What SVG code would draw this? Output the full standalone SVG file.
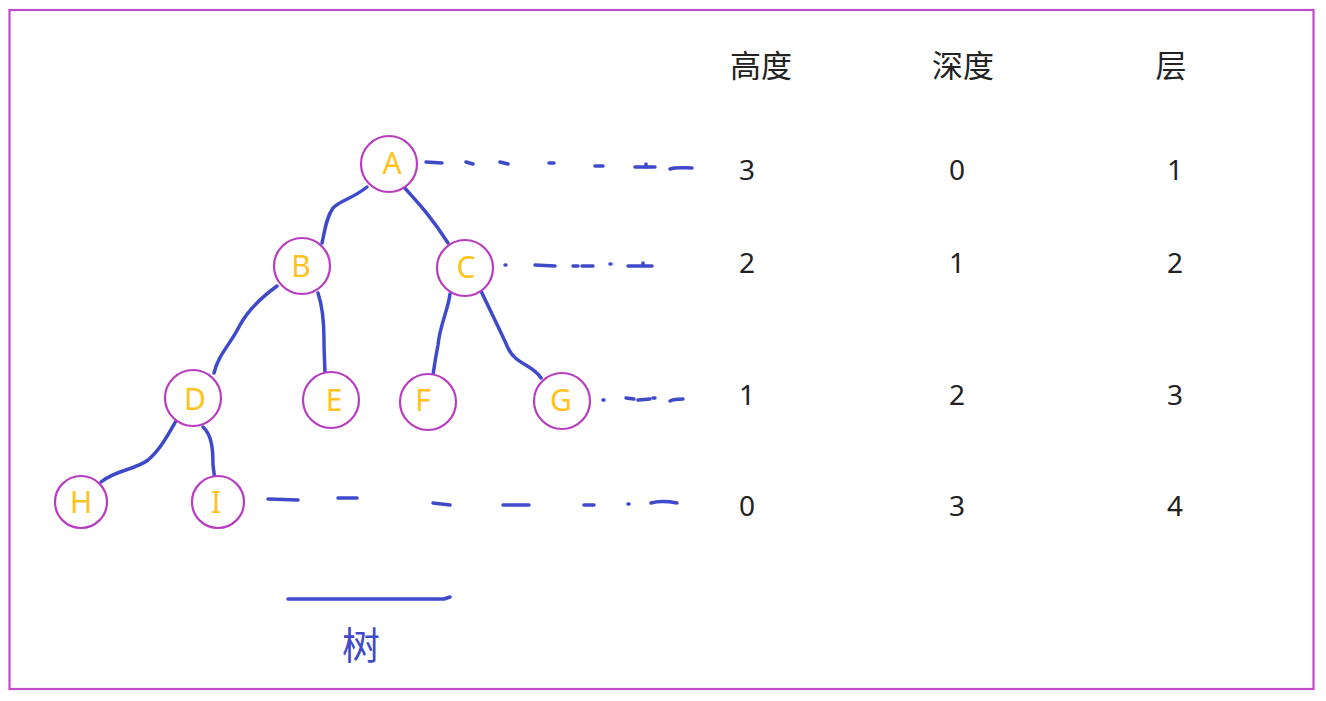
<svg xmlns="http://www.w3.org/2000/svg" width="1326" height="701" viewBox="0 0 1326 701">
<style>
.node circle{fill:#fff;stroke:#B83DC0;stroke-width:2.2}
.node text{fill:#FFC21A;font-family:"Noto Sans","Noto Sans CJK SC",sans-serif;font-size:30px;text-anchor:middle;dominant-baseline:central}
.edge{fill:none;stroke:#3F4ACB;stroke-width:3.5;stroke-linecap:round;stroke-linejoin:round}
.hd{fill:#222;font-family:"Noto Sans CJK SC","Noto Sans",sans-serif;font-size:31px;text-anchor:middle;dominant-baseline:central}
.num{fill:#222;font-family:"Noto Sans","Noto Sans CJK SC",sans-serif;font-size:28px;text-anchor:middle;dominant-baseline:central}
</style>
<rect x="0" y="0" width="1326" height="701" fill="#fff"/>
<rect x="9.5" y="10" width="1304" height="679" fill="none" stroke="#C04CC8" stroke-width="2.2"/>
<g id="connectors">
<path class="edge" d="M367,187 C352,199 341,200 333,208 C326,218 325,230 322,243"/>
<path class="edge" d="M403,186 C418,203 430,215 448,243"/>
<path class="edge" d="M277,286 C262,297 248,310 240,325 C230,345 218,355 214,373"/>
<path class="edge" d="M318,293 C322,305 324,320 324,340 C324,355 325,365 325,378"/>
<path class="edge" d="M450,294 C448,310 440,325 438,345 C435,360 434,368 433,375"/>
<path class="edge" d="M481,291 C490,310 500,330 508,348 C516,365 532,364 541,378"/>
<path class="edge" d="M176,421 C168,435 160,450 148,460 C135,470 115,470 101,482"/>
<path class="edge" d="M203,427 C212,435 213,450 213,465 L215,481"/>
<g class="edge">
<path d="M426,162 L442,163"/><path d="M466,162 L473,164"/><path d="M500,162 L508,164"/><path d="M549,163 L554,163"/><path d="M595,166 L603,166"/><path d="M635,167 L655,167"/><path d="M646,164 L646,167"/><path d="M670,169 C676,167 684,168 692,168"/>
<path d="M505,265 L506,265"/><path d="M535,265 L555,266"/><path d="M573,266 L578,266"/><path d="M582,266 L593,266"/><path d="M610,264 L611,264"/><path d="M628,266 L652,266"/><path d="M643,263 L643,265"/>
<path d="M603,400 L604,400"/><path d="M626,398 L634,399"/><path d="M638,400 L650,399"/><path d="M653,398 L655,398"/><path d="M670,401 C674,399 678,399 683,399"/>
<path d="M268,499 L298,500"/><path d="M338,498 L357,498"/><path d="M433,503 L450,505"/><path d="M503,505 L529,505"/><path d="M584,505 L594,505"/><path d="M628,504 L629,504"/><path d="M651,503 C658,501 666,501 677,503"/>
</g>
<path class="edge" d="M288,599 L444,599 L450,597" stroke-width="3"/>
</g>
<g id="A" class="node"><circle cx="389" cy="164" r="28"/><text x="392" y="162">A</text></g>
<g id="B" class="node"><circle cx="302" cy="266" r="28"/><text x="301" y="265">B</text></g>
<g id="C" class="node"><circle cx="465" cy="268" r="28"/><text x="466" y="266">C</text></g>
<g id="D" class="node"><circle cx="193" cy="398" r="28"/><text x="195" y="398">D</text></g>
<g id="E" class="node"><circle cx="331" cy="400" r="28"/><text x="334" y="399">E</text></g>
<g id="F" class="node"><circle cx="428" cy="402" r="28"/><text x="423" y="399">F</text></g>
<g id="G" class="node"><circle cx="562" cy="401" r="28"/><text x="561" y="399">G</text></g>
<g id="H" class="node"><circle cx="81" cy="502" r="26"/><text x="81" y="501">H</text></g>
<g id="I" class="node"><circle cx="218" cy="502" r="26"/><text x="216" y="501">I</text></g>
<g id="table">
<text class="hd" x="761" y="63">高度</text>
<text class="hd" x="963" y="63">深度</text>
<text class="hd" x="1171" y="63">层</text>
<text class="num" x="747" y="169">3</text><text class="num" x="957" y="169">0</text><text class="num" x="1175" y="169">1</text>
<text class="num" x="747" y="262">2</text><text class="num" x="957" y="262">1</text><text class="num" x="1175" y="262">2</text>
<text class="num" x="747" y="394">1</text><text class="num" x="957" y="394">2</text><text class="num" x="1175" y="394">3</text>
<text class="num" x="747" y="505">0</text><text class="num" x="957" y="505">3</text><text class="num" x="1175" y="505">4</text>
</g>
<text x="361" y="642" fill="#3F4ACB" font-family="'Noto Sans CJK SC',sans-serif" font-size="38" text-anchor="middle" dominant-baseline="central">树</text>
</svg>
